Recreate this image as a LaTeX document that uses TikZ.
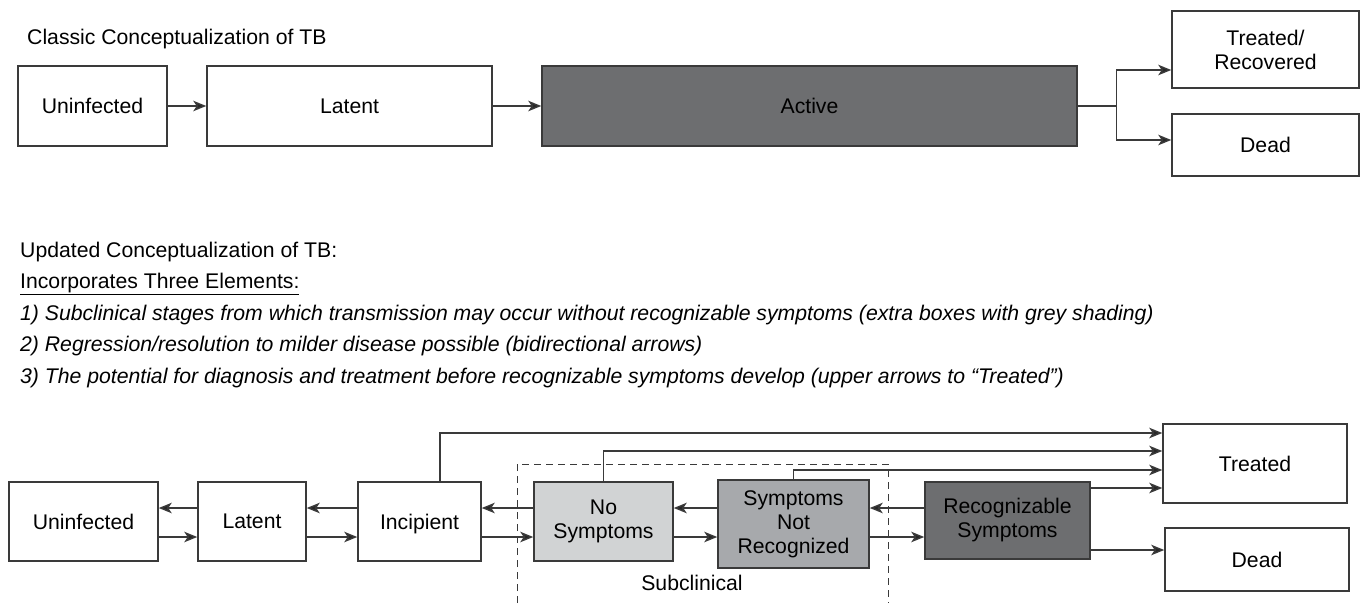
\documentclass[tikz,border=0pt]{standalone}
\usepackage{fontspec}
\setmainfont{Liberation Sans}
\usetikzlibrary{positioning,calc,arrows.meta}
\definecolor{mydark}{RGB}{109,110,112}
\definecolor{mymid}{RGB}{167,169,172}
\definecolor{mylight}{RGB}{209,211,212}
\definecolor{myline}{RGB}{58,58,58}
\newcommand{\boxfont}{\fontsize{21.2pt}{24pt}\selectfont}
\tikzstyle{stage}=[draw=myline,fill=white,line width=1.5pt,minimum height=79pt,inner sep=0pt,align=center,font=\boxfont]
\tikzstyle{single}=[text depth=0pt]
\tikzstyle{arr}=[-{Stealth[length=13pt,width=10.5pt,inset=3.5pt,fill=black!85]},draw=myline,line width=1.4pt]
\tikzstyle{txt}=[inner sep=0pt,anchor=base west,font=\boxfont]

\begin{document}
\begin{tikzpicture}[x=1pt,y=1pt]
      \useasboundingbox (0,0) rectangle (1366,-603);

      \node[txt] (T0) at (27,-44.6) {Classic Conceptualization of TB};
      \node (U1) at (92.5,-106) [stage, single, minimum width=149pt, minimum height=80pt] {Uninfected};
      \node (L1) [stage, single, minimum width=285pt, minimum height=80pt, right=38.5pt of U1] {Latent};
      \node (A1) [stage, single, minimum width=535pt, minimum height=80pt, fill=mydark, right=48.5pt of L1] {Active};
      \node (TR) at (1265.5,-49.5) [stage, minimum width=187pt, minimum height=77pt] {Treated/\\Recovered};
      \node (D1) [stage, single, minimum width=187pt, minimum height=62pt, below=24.5pt of TR] {Dead};

      \draw[arr] (U1) -- (L1);
      \draw[arr] (L1) -- (A1);
      \draw[arr] (A1.east) -- ++(39pt,0) |- ([yshift=-20.5pt]TR.west);
      \draw[arr] (A1.east) -- ++(39pt,0) |- ([yshift=5pt]D1.west);

      \node[txt] (N0) at (20,-257) {Updated Conceptualization of TB:};
      \node[txt] (N1) at (20,-288) {\underline{Incorporates Three Elements:}};
      \node[txt, font=\boxfont\itshape] (N2) at (20,-320) {1) Subclinical stages from which transmission may occur without recognizable symptoms (extra boxes with grey shading)};
      \node[txt, font=\boxfont\itshape] (N3) at (20,-351) {2) Regression/resolution to milder disease possible (bidirectional arrows)};
      \node[txt, font=\boxfont\itshape] (N4) at (20,-383) {3) The potential for diagnosis and treatment before recognizable symptoms develop (upper arrows to ``Treated'')};

      \node (U2) at (83.5,-521.5) [stage, single, minimum width=149pt] {Uninfected};
      \node (L2) [stage, single, minimum width=108pt, right=38.5pt of U2] {Latent};
      \node (I2) [stage, single, minimum width=123pt, right=50.5pt of L2] {Incipient};
      \node (NS) [stage, minimum width=139pt, fill=mylight, right=51.5pt of I2] {No\\Symptoms};
      \node (SNR) [stage, minimum width=151pt, minimum height=88pt, fill=mymid, right=43.5pt of NS, yshift=-2.5pt] {Symptoms\\Not\\Recognized};
      \node (RS) [stage, minimum width=165pt, minimum height=77pt, fill=mydark, right=54.5pt of SNR, yshift=3.5pt] {Recognizable\\Symptoms};
      \node (T2) at (1255,-463.5) [stage, single, minimum width=184pt] {Treated};
      \node (D2) [stage, single, minimum width=184pt, minimum height=63pt, below=23.5pt of T2, xshift=2pt] {Dead};

      \draw[dashed, dash pattern=on 7pt off 5pt, draw=myline, line width=1pt] (517,-603) |- (888,-464) -- (888,-603);
      \node (SC) at (692,-583) [font=\boxfont] {Subclinical};

      \coordinate (fwd) at (0,-537);
      \coordinate (back) at (0,-508);
      \foreach \a/\b in {U2/L2, L2/I2, I2/NS, NS/SNR, SNR/RS} {
        \draw[arr] (\a.east |- fwd) -- (\b.west |- fwd);
        \draw[arr] (\b.west |- back) -- (\a.east |- back);
      }

      \draw[arr] ([xshift=20.5pt]I2.north) |- ([yshift=30.5pt]T2.west);
      \draw[arr] (NS.north) |- ([yshift=12.5pt]T2.west);
      \draw[arr] (SNR.north) |- ([yshift=-6.5pt]T2.west);
      \draw[arr] ([yshift=-24.5pt]T2.west -| RS.east) -- ([yshift=-24.5pt]T2.west);
      \draw[arr] ([yshift=9.5pt]D2.west -| RS.east) -- ([yshift=9.5pt]D2.west);
\end{tikzpicture}
\end{document}
